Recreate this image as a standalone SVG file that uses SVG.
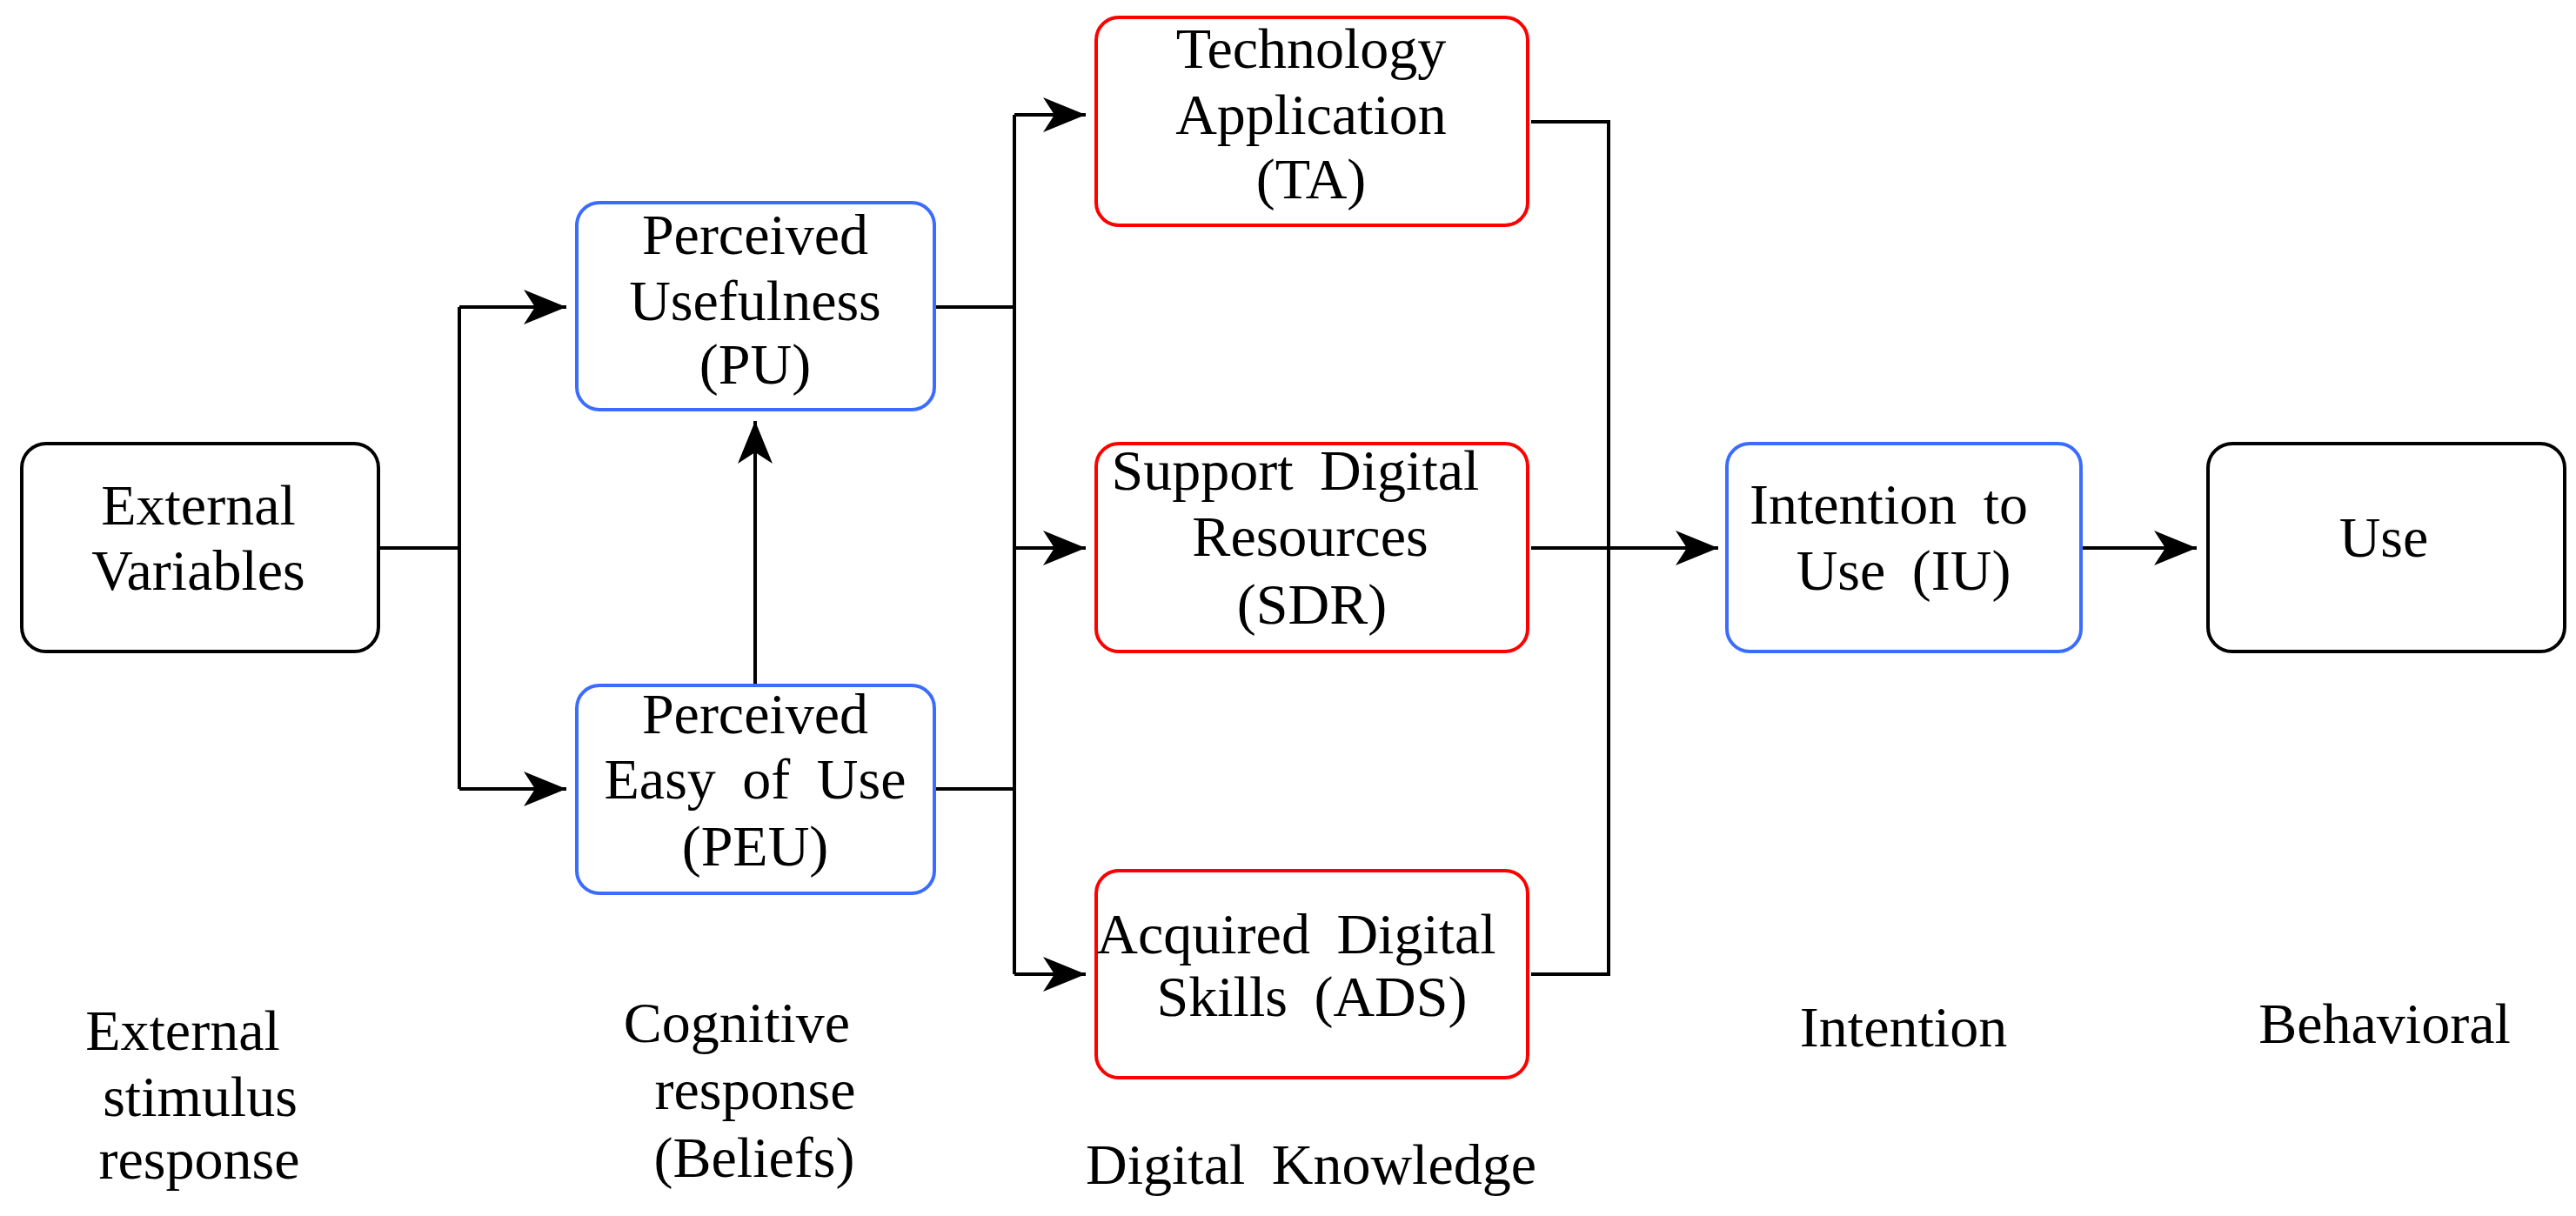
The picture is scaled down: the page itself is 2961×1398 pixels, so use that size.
<svg xmlns="http://www.w3.org/2000/svg" width="2961" height="1398" viewBox="0 0 2961 1398">
<style>
text{font-family:'Liberation Serif','Times New Roman',serif;font-size:66px;fill:#000;text-anchor:middle;word-spacing:14px}
.box{fill:#fff;stroke-width:4}
.k{stroke:#000}
.b{stroke:#3b6cff}
.r{stroke:#ff0000}
.c{fill:none;stroke:#000;stroke-width:4}
</style>
<defs>
<marker id="ah" viewBox="0 0 50 40" refX="49" refY="20" markerWidth="50" markerHeight="40" markerUnits="userSpaceOnUse" orient="auto">
<path d="M0,0 L49,20 L0,40 L13,20 Z" fill="#000"/>
</marker>
</defs>
<rect width="2961" height="1398" fill="#fff"/>
<g id="connectors">
<path class="c" d="M435,630 H528"/>
<path class="c" d="M528,353 V907"/>
<path class="c" d="M528,353 H651" marker-end="url(#ah)"/>
<path class="c" d="M528,907 H651" marker-end="url(#ah)"/>
<path class="c" d="M868,788 V484" marker-end="url(#ah)"/>
<path class="c" d="M1076,353 H1166"/>
<path class="c" d="M1076,907 H1166"/>
<path class="c" d="M1166,132 V1120"/>
<path class="c" d="M1166,132 H1248" marker-end="url(#ah)"/>
<path class="c" d="M1166,630 H1248" marker-end="url(#ah)"/>
<path class="c" d="M1166,1120 H1248" marker-end="url(#ah)"/>
<path class="c" d="M1760,140 H1849 V1120 H1760"/>
<path class="c" d="M1760,630 H1975" marker-end="url(#ah)"/>
<path class="c" d="M2394,630 H2525" marker-end="url(#ah)"/>
</g>
<g id="ev">
<rect class="box k" x="25" y="510" width="410" height="239" rx="28"/>
<text x="228" y="603">External</text>
<text x="228" y="678">Variables</text>
</g>
<g id="pu">
<rect class="box b" x="663" y="233" width="411" height="238" rx="26"/>
<text x="868" y="292">Perceived</text>
<text x="868" y="368">Usefulness</text>
<text x="868" y="441">(PU)</text>
</g>
<g id="peu">
<rect class="box b" x="663" y="788" width="411" height="239" rx="26"/>
<text x="868" y="843">Perceived</text>
<text x="868" y="918">Easy of Use</text>
<text x="868" y="995">(PEU)</text>
</g>
<g id="ta">
<rect class="box r" x="1260" y="20" width="496" height="239" rx="26"/>
<text x="1507" y="78">Technology</text>
<text x="1507" y="154">Application</text>
<text x="1507" y="228">(TA)</text>
</g>
<g id="sdr">
<rect class="box r" x="1260" y="510" width="496" height="239" rx="26"/>
<text x="1489" y="563">Support Digital</text>
<text x="1506" y="639">Resources</text>
<text x="1508" y="717">(SDR)</text>
</g>
<g id="ads">
<rect class="box r" x="1260" y="1001" width="496" height="238" rx="26"/>
<text x="1490" y="1096">Acquired Digital</text>
<text x="1508" y="1168">Skills (ADS)</text>
</g>
<g id="iu">
<rect class="box b" x="1985" y="510" width="407" height="239" rx="26"/>
<text x="2171" y="602">Intention to</text>
<text x="2188" y="678">Use (IU)</text>
</g>
<g id="use">
<rect class="box k" x="2538" y="510" width="410" height="239" rx="28"/>
<text x="2740" y="640">Use</text>
</g>
<g id="labels">
<text x="210" y="1207">External</text>
<text x="230" y="1283">stimulus</text>
<text x="229" y="1355">response</text>
<text x="847" y="1198">Cognitive</text>
<text x="868" y="1275">response</text>
<text x="867" y="1353">(Beliefs)</text>
<text x="1507" y="1361">Digital Knowledge</text>
<text x="2188" y="1203">Intention</text>
<text x="2741" y="1199">Behavioral</text>
</g>
</svg>
